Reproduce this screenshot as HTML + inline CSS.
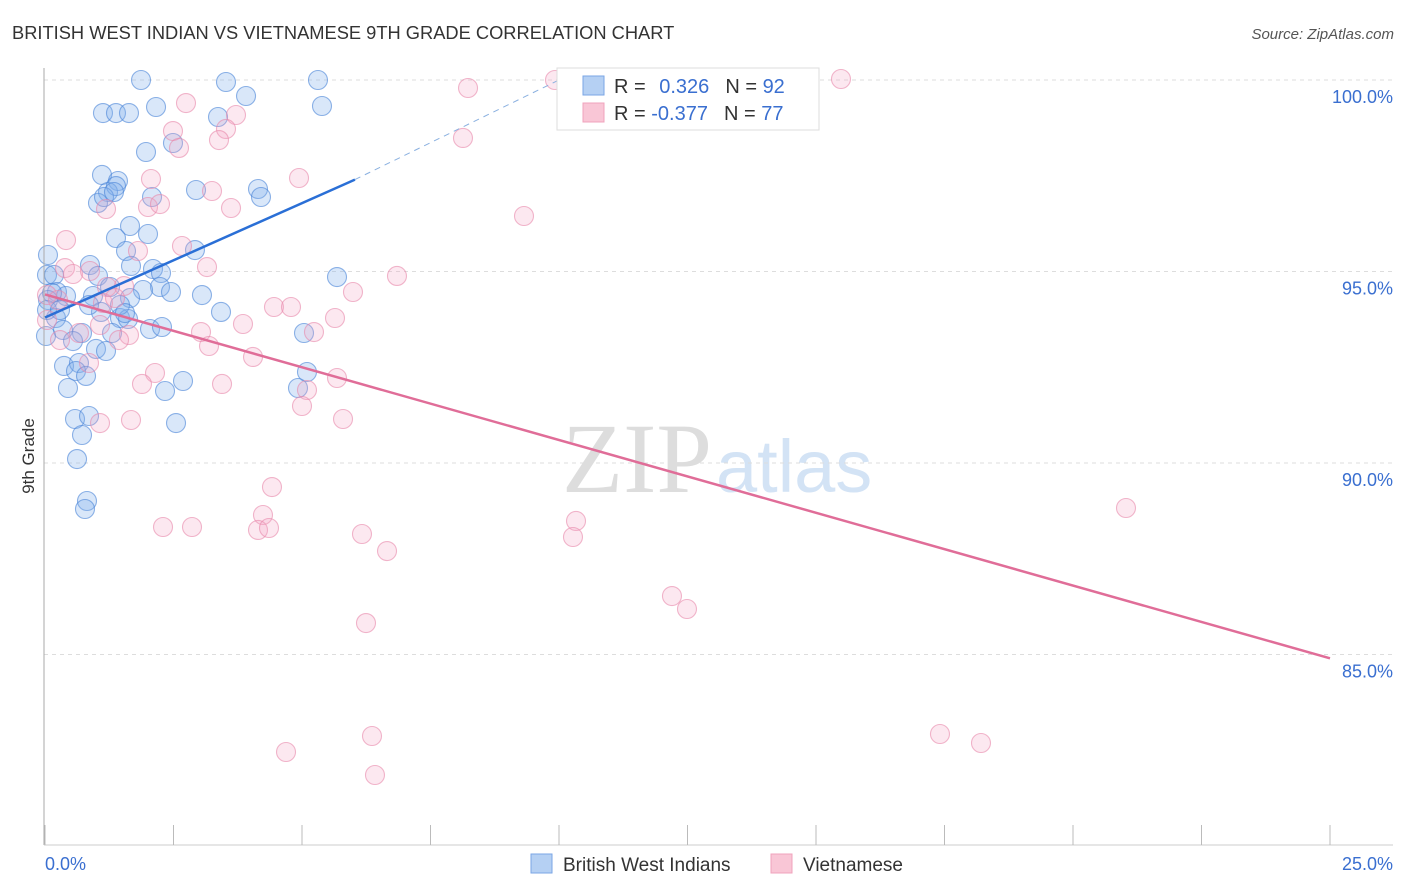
<!DOCTYPE html>
<html><head><meta charset="utf-8"><style>
body{margin:0;background:#fff;width:1406px;height:892px;overflow:hidden;font-family:"Liberation Sans",sans-serif}
</style></head><body>
<svg id="c" width="1406" height="892" style="position:absolute;left:0;top:0">
<text x="12" y="39" font-size="18.3" fill="#333">BRITISH WEST INDIAN VS VIETNAMESE 9TH GRADE CORRELATION CHART</text>
<text x="1394" y="39" font-size="15" fill="#555" font-style="italic" text-anchor="end">Source: ZipAtlas.com</text>
<text x="34" y="456" font-size="17" fill="#333" transform="rotate(-90 34 456)" text-anchor="middle">9th Grade</text>
<text x="712" y="492" font-size="100" fill="#ddd" font-family="Liberation Serif" text-anchor="end">ZIP</text>
<text x="716" y="492" font-size="74" fill="#d3e3f5">atlas</text>
<g id="grid"></g><g id="pts"></g><g id="lines"></g>
<line x1="44" y1="68" x2="44" y2="845" stroke="#aaa"/>
<line x1="44" y1="845" x2="1393" y2="845" stroke="#ccc"/>
<g id="xt"></g>
<text x="45" y="870" font-size="18" fill="#3a6fd0">0.0%</text>
<text x="1393" y="870" font-size="18" fill="#3a6fd0" text-anchor="end">25.0%</text>
<g>
<rect x="557" y="68" width="262" height="62" fill="#fff" stroke="#ddd"/>
<rect x="583" y="76" width="21" height="19" fill="#b5d0f3" stroke="#7aa6e6"/>
<rect x="583" y="103" width="21" height="19" fill="#f9c6d6" stroke="#f0a3bc"/>
<text x="614" y="93" font-size="20" fill="#333">R = <tspan fill="#3a6fd0" dx="8">0.326</tspan><tspan dx="16" fill="#333">N = </tspan><tspan fill="#3a6fd0">92</tspan></text>
<text x="614" y="120" font-size="20" fill="#333">R = <tspan fill="#3a6fd0">-0.377</tspan><tspan dx="16" fill="#333">N = </tspan><tspan fill="#3a6fd0">77</tspan></text>
</g>
<g>
<rect x="531" y="854" width="21" height="19" fill="#b5d0f3" stroke="#7aa6e6"/>
<text x="563" y="871" font-size="19" fill="#333">British West Indians</text></g>
<g>
<rect x="771" y="854" width="21" height="19" fill="#f9c6d6" stroke="#f0a3bc"/>
<text x="803" y="871" font-size="19" fill="#333">Vietnamese</text></g>
</svg>
<script>
const yTicks=[100,95,90,85];
const yTickLabels=["100.0%","95.0%","90.0%","85.0%"];
const xTicks=[0,2.5,5,7.5,10,12.5,15,17.5,20,22.5,25];
const bluePx=[[141,80],[226,82],[318,80],[156,107],[246,96],[322,106],[103,113],[116,113],[129,113],[218,117],[173,143],[146,152],[102,175],[118,181],[108,192],[116,186],[98,203],[104,197],[114,192],[152,197],[196,190],[258,189],[261,197],[130,226],[116,238],[148,234],[126,251],[195,250],[131,266],[48,255],[153,269],[161,273],[90,265],[98,276],[47,275],[54,275],[160,287],[143,290],[171,292],[202,295],[110,287],[93,296],[57,292],[66,296],[52,293],[101,312],[89,305],[120,318],[128,319],[56,318],[63,330],[82,333],[112,333],[150,329],[162,327],[221,312],[337,277],[304,333],[46,336],[96,349],[106,351],[73,341],[64,366],[79,363],[76,371],[86,376],[68,388],[165,391],[183,381],[298,388],[307,372],[75,419],[89,416],[82,435],[77,459],[176,423],[87,501],[85,509],[130,298],[120,305],[48,300],[47,310],[60,310],[125,313]];
const pinkPx=[[555,80],[841,79],[468,88],[186,103],[236,115],[226,129],[173,131],[219,140],[463,138],[179,148],[299,178],[151,179],[212,191],[231,208],[106,209],[148,207],[160,204],[524,216],[66,240],[182,246],[138,251],[207,267],[397,276],[65,268],[73,274],[90,271],[107,287],[124,286],[353,292],[274,307],[291,307],[47,295],[103,303],[115,298],[335,318],[243,324],[314,332],[201,332],[129,335],[79,333],[100,325],[209,346],[119,340],[253,357],[155,373],[142,384],[222,384],[337,378],[307,390],[302,406],[89,363],[343,419],[131,420],[100,423],[1126,508],[272,487],[263,515],[163,527],[192,527],[258,530],[269,528],[362,534],[576,521],[573,537],[387,551],[672,596],[687,609],[366,623],[940,734],[981,743],[372,736],[286,752],[375,775],[47,320],[60,340],[58,300]];
const blueX=bluePx.map(p=>+((p[0]-45)/1285*25).toFixed(3));
const blueY=bluePx.map(p=>+(100-(p[1]-80)/38.3).toFixed(3));
const pinkX=pinkPx.map(p=>+((p[0]-45)/1285*25).toFixed(3));
const pinkY=pinkPx.map(p=>+(100-(p[1]-80)/38.3).toFixed(3));
const blueTrend=[[0,93.8],[6.03,97.4]];
const blueTrendDash=[[6.03,97.4],[10,100]];
const pinkTrend=[[0,94.4],[25,84.9]];
const sx=v=>45+v/25*1285, sy=v=>80+(100-v)*38.3;
const NS="http://www.w3.org/2000/svg";
function mk(t,a,p){const e=document.createElementNS(NS,t);for(const k in a)e.setAttribute(k,a[k]);document.getElementById(p).appendChild(e);return e;}
yTicks.forEach((v,i)=>{
 const l=mk('line',{x1:44,x2:1393,y1:sy(v),y2:sy(v),stroke:'#ddd','stroke-dasharray':'4,4'},'grid');
 
 
 const t=mk('text',{x:1393,y:sy(v)+23,'font-size':18,fill:'#3a6fd0','text-anchor':'end'},'grid');
 t.textContent=yTickLabels[i];
 
 
});
xTicks.forEach(v=>{
 const l=mk('line',{x1:sx(v),x2:sx(v),y1:825,y2:845,stroke:'#bbb'},'xt');
 
 
});
blueX.forEach((x,i)=>{
 const c=mk('circle',{cx:sx(x),cy:sy(blueY[i]),r:9.5,fill:'rgba(130,175,235,0.3)',stroke:'rgba(70,130,215,0.6)','stroke-width':1.1},'pts');
 
 
});
pinkX.forEach((x,i)=>{
 const c=mk('circle',{cx:sx(x),cy:sy(pinkY[i]),r:9.5,fill:'rgba(244,165,195,0.25)',stroke:'rgba(232,135,170,0.6)','stroke-width':1.1},'pts');
 
 
});
let l=mk('line',{x1:sx(blueTrend[0][0]),y1:sy(blueTrend[0][1]),x2:sx(blueTrend[1][0]),y2:sy(blueTrend[1][1]),stroke:'#2a6fd6','stroke-width':2.5},'lines');


l=mk('line',{x1:sx(blueTrendDash[0][0]),y1:sy(blueTrendDash[0][1]),x2:sx(blueTrendDash[1][0]),y2:sy(blueTrendDash[1][1]),stroke:'#8ab0e0','stroke-width':1,'stroke-dasharray':'6,5'},'lines');


l=mk('line',{x1:sx(pinkTrend[0][0]),y1:sy(pinkTrend[0][1]),x2:sx(pinkTrend[1][0]),y2:sy(pinkTrend[1][1]),stroke:'#e06d98','stroke-width':2.5},'lines');


</script>
</body></html>
